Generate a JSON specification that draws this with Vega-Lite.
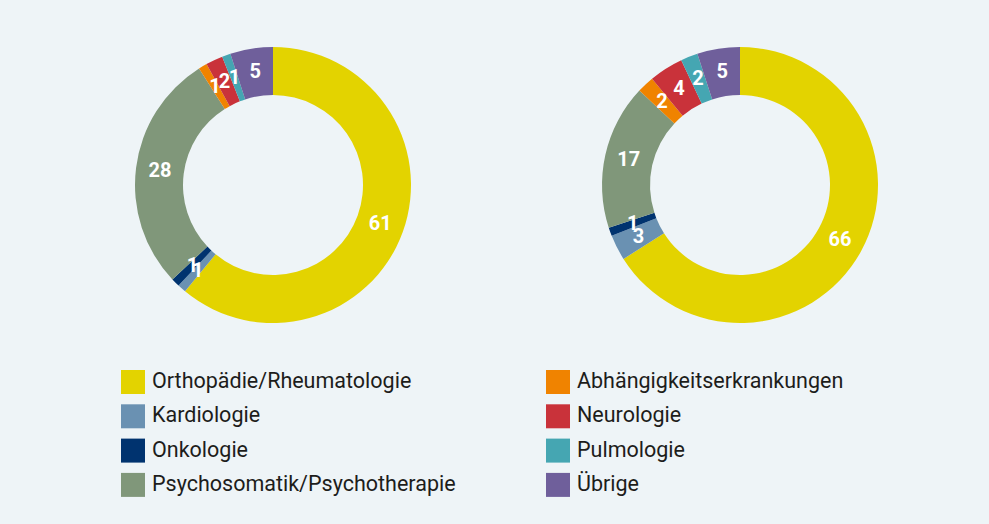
{
  "$schema": "https://vega.github.io/schema/vega-lite/v6.json",
  "background": "#eef4f7",
  "padding": {"left": 121, "top": 47, "right": 97, "bottom": 29},
  "datasets": {
    "d": [
      {"Gruppe": "A", "Fachrichtung": "Orthopädie/Rheumatologie", "Anteil": 61, "ord": 1},
      {"Gruppe": "A", "Fachrichtung": "Kardiologie", "Anteil": 1, "ord": 2},
      {"Gruppe": "A", "Fachrichtung": "Onkologie", "Anteil": 1, "ord": 3},
      {"Gruppe": "A", "Fachrichtung": "Psychosomatik/Psychotherapie", "Anteil": 28, "ord": 4},
      {"Gruppe": "A", "Fachrichtung": "Abhängigkeitserkrankungen", "Anteil": 1, "ord": 5},
      {"Gruppe": "A", "Fachrichtung": "Neurologie", "Anteil": 2, "ord": 6},
      {"Gruppe": "A", "Fachrichtung": "Pulmologie", "Anteil": 1, "ord": 7},
      {"Gruppe": "A", "Fachrichtung": "Übrige", "Anteil": 5, "ord": 8},
      {"Gruppe": "B", "Fachrichtung": "Orthopädie/Rheumatologie", "Anteil": 66, "ord": 1},
      {"Gruppe": "B", "Fachrichtung": "Kardiologie", "Anteil": 3, "ord": 2},
      {"Gruppe": "B", "Fachrichtung": "Onkologie", "Anteil": 1, "ord": 3},
      {"Gruppe": "B", "Fachrichtung": "Psychosomatik/Psychotherapie", "Anteil": 17, "ord": 4},
      {"Gruppe": "B", "Fachrichtung": "Abhängigkeitserkrankungen", "Anteil": 2, "ord": 5},
      {"Gruppe": "B", "Fachrichtung": "Neurologie", "Anteil": 4, "ord": 6},
      {"Gruppe": "B", "Fachrichtung": "Pulmologie", "Anteil": 2, "ord": 7},
      {"Gruppe": "B", "Fachrichtung": "Übrige", "Anteil": 5, "ord": 8}
    ]
  },
  "spacing": 163,
  "hconcat": [
    {
      "width": 304,
      "height": 276,
      "data": {"name": "d"},
      "transform": [{"filter": "datum.Gruppe === 'A'"}],
      "encoding": {
        "theta": {"field": "Anteil", "type": "quantitative", "stack": true},
        "order": {"field": "ord", "type": "quantitative"}
      },
      "layer": [
        {
          "mark": {"type": "arc", "innerRadius": 90, "outerRadius": 138},
          "encoding": {
            "color": {
              "field": "Fachrichtung",
              "type": "nominal",
              "scale": {
                "domain": ["Orthopädie/Rheumatologie", "Kardiologie", "Onkologie", "Psychosomatik/Psychotherapie", "Abhängigkeitserkrankungen", "Neurologie", "Pulmologie", "Übrige"],
                "range": ["#e3d300", "#6a91b2", "#00336f", "#80977a", "#f08300", "#c9323a", "#45a6b2", "#6f5f9b"]
              },
              "legend": {
                "title": null,
                "orient": "none",
                "legendX": 0,
                "legendY": 323,
                "columns": 2,
                "columnPadding": 90,
                "rowPadding": 10.3,
                "symbolType": "square",
                "symbolSize": 576,
                "symbolStrokeWidth": 0,
                "symbolOpacity": 1,
                "labelFont": "Roboto",
                "labelFontSize": 21.5,
                "labelColor": "#1d1d1b",
                "labelOffset": 7,
                "labelLimit": 500
              }
            }
          }
        },
        {
          "mark": {"type": "text", "radius": 114, "font": "Roboto", "fontWeight": "bold", "fontSize": 20, "color": "white"},
          "encoding": {
            "text": {"field": "Anteil", "type": "quantitative"},
            "detail": {"field": "Fachrichtung", "type": "nominal"}
          }
        }
      ]
    },
    {
      "width": 304,
      "height": 276,
      "data": {"name": "d"},
      "transform": [{"filter": "datum.Gruppe === 'B'"}],
      "encoding": {
        "theta": {"field": "Anteil", "type": "quantitative", "stack": true},
        "order": {"field": "ord", "type": "quantitative"}
      },
      "layer": [
        {
          "mark": {"type": "arc", "innerRadius": 90, "outerRadius": 138},
          "encoding": {
            "color": {"field": "Fachrichtung", "type": "nominal"}
          }
        },
        {
          "mark": {"type": "text", "radius": 114, "font": "Roboto", "fontWeight": "bold", "fontSize": 20, "color": "white"},
          "encoding": {
            "text": {"field": "Anteil", "type": "quantitative"},
            "detail": {"field": "Fachrichtung", "type": "nominal"}
          }
        }
      ]
    }
  ],
  "resolve": {"scale": {"theta": "independent"}},
  "config": {"view": {"stroke": null}}
}
